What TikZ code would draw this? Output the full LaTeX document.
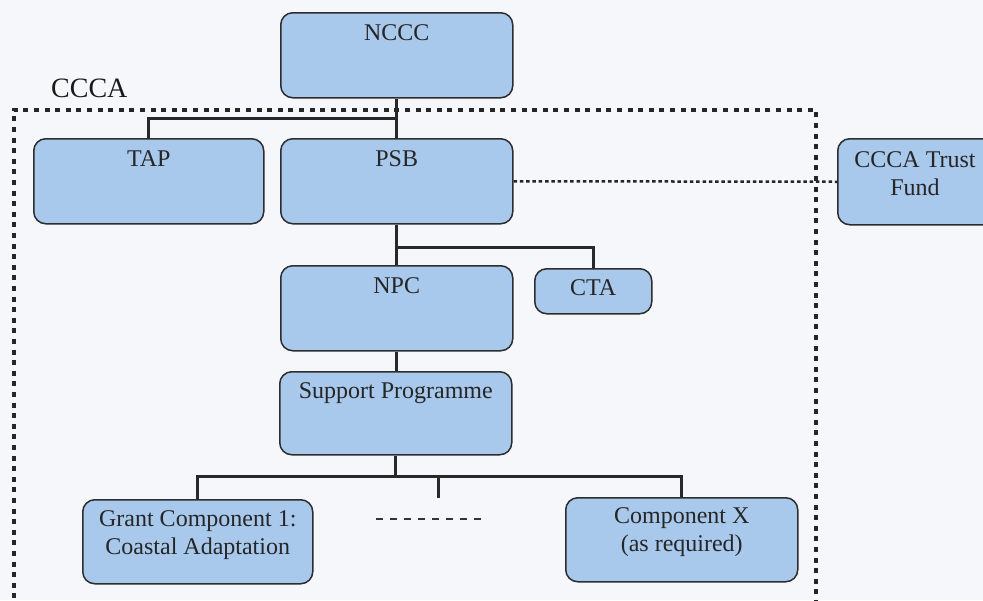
\documentclass[tikz,border=0pt]{standalone}
\usepackage{fontspec}
\setmainfont{Liberation Serif}
\definecolor{bgcol}{RGB}{245,247,251}
\definecolor{boxfill}{RGB}{168,200,236}
\definecolor{boxline}{RGB}{45,45,45}
\definecolor{linecol}{RGB}{40,40,40}
\tikzset{
  orgbox/.style={draw=boxline, line width=1.5pt, fill=boxfill, rounded corners=12pt,
    rectangle, inner sep=0pt, anchor=north west},
  boxtext/.style={anchor=north, inner sep=0pt, align=center, text=black!85,
    font=\fontsize{24}{28}\selectfont},
  conn/.style={draw=linecol, line width=3pt},
  frame/.style={draw=black!85, line width=3.5pt, dash pattern=on 5pt off 5.6pt,
    rectangle, inner sep=0pt, anchor=north west},
  fundlink/.style={draw=black!85, line width=2.5pt, dash pattern=on 3.5pt off 2.8pt},
  etcline/.style={draw=black!80, line width=1.3pt, dash pattern=on 7pt off 7pt}
}
\begin{document}
\begin{tikzpicture}[x=1pt,y=-1pt]
\useasboundingbox (0,0) rectangle (983,600);
\fill[bgcol] (0,0) rectangle (983,600);

% dotted CCCA frame
\node[frame, minimum width=802pt, minimum height=520pt] (cccaframe) at (12,108) {};
\node[anchor=base west, inner sep=0pt, font=\fontsize{28}{32}\selectfont, text=black!90] (cccalbl) at (51,97) {CCCA};

% boxes
\node[orgbox, minimum width=232pt, minimum height=85pt] (nccc) at (280,12) {};
\node[orgbox, minimum width=230pt, minimum height=85pt] (tap) at (33,138) {};
\node[orgbox, minimum width=232pt, minimum height=85pt] (psb) at (280,138) {};
\node[orgbox, minimum width=160pt, minimum height=86pt] (fund) at (837,138) {};
\node[orgbox, minimum width=232pt, minimum height=85pt] (npc) at (280,265) {};
\node[orgbox, minimum width=117pt, minimum height=45pt] (cta) at (534,268) {};
\node[orgbox, minimum width=232pt, minimum height=83pt] (sp) at (279,371) {};
\node[orgbox, minimum width=230pt, minimum height=84pt] (gc1) at (82,499) {};
\node[orgbox, minimum width=232pt, minimum height=84pt] (compx) at (565,497) {};

% texts
\node[boxtext] (ncccT) at ([yshift=-12pt]nccc.north) {NCCC};
\node[boxtext] (tapT) at ([yshift=-12pt]tap.north) {TAP};
\node[boxtext] (psbT) at ([yshift=-12pt]psb.north) {PSB};
\node[boxtext] (fundT) at (915,151) {CCCA Trust\\Fund};
\node[boxtext] (npcT) at ([yshift=-12pt]npc.north) {NPC};
\node[boxtext] (ctaT) at ([yshift=-11pt]cta.north) {CTA};
\node[boxtext] (spT) at ([yshift=-11pt]sp.north) {Support Programme};
\node[boxtext] (gc1T) at ([yshift=-11pt]gc1.north) {Grant Component 1:\\Coastal Adaptation};
\node[boxtext] (compxT) at ([yshift=-10pt]compx.north) {Component X\\(as required)};

% connectors
\draw[conn] (nccc.south) -- (psb.north);
\draw[conn] (tap.north) |- ([yshift=20pt]psb.north);
\draw[conn] (psb.south) -- (npc.north);
\draw[conn] ([yshift=-23pt]psb.south) -| (cta.north);
\draw[conn] (npc.south) -- (npc.south |- sp.north);
\coordinate (bus) at ([yshift=-21pt]sp.south);
\draw[conn] (sp.south) -- (bus);
\draw[conn] (gc1.north) |- (bus) -| (compx.north);
\coordinate (stubtop) at (438,475);
\coordinate (stubend) at (438,498);
\draw[conn] (stubtop) -- (stubend);
\draw[fundlink] (psb.east) -- (fund.west);

% "- - - -" placeholder
\coordinate (etcA) at (376,519);
\coordinate (etcB) at (485,519);
\draw[etcline] (etcA) -- (etcB);
\end{tikzpicture}
\end{document}
